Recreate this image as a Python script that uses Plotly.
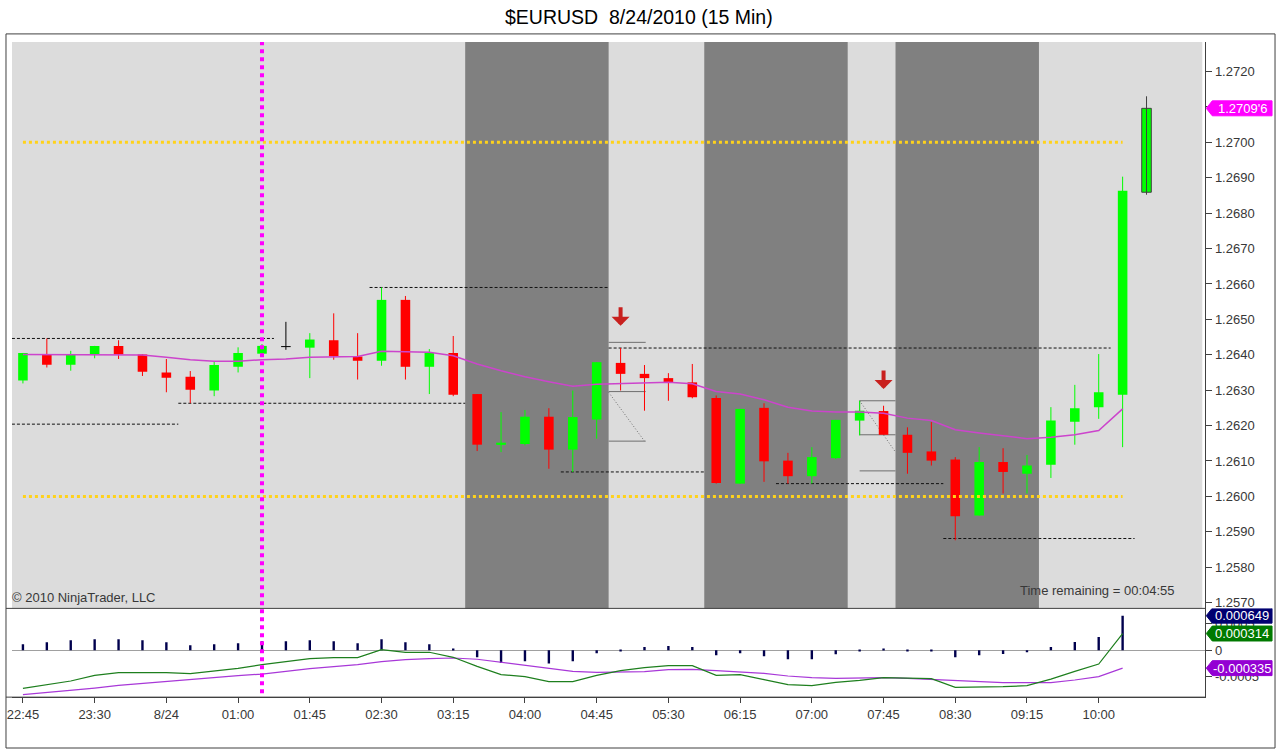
import plotly.graph_objects as go

W, H = 1280, 751


def px_x(x):
    return x / W


def px_y(y):
    return 1 - y / H


# ---------------- data ----------------
title_text = "$EURUSD \u00a08/24/2010 (15 Min)"

tick_bars = [0, 3, 6, 9, 12, 15, 18, 21, 24, 27, 30, 33, 36, 39, 42, 45]
tick_labels = ["22:45", "23:30", "8/24", "01:00", "01:45", "02:30", "03:15", "04:00",
               "04:45", "05:30", "06:15", "07:00", "07:45", "08:30", "09:15", "10:00"]

open_ = [1.26327, 1.26399, 1.26372, 1.26402, 1.26425, 1.26401, 1.26350, 1.26338, 1.26299, 1.26366,
         1.26403, 1.26423, 1.26420, 1.26441, 1.26395, 1.26383, 1.26555, 1.26366, 1.26405, 1.26289,
         1.26147, 1.26148, 1.26225, 1.26132, 1.26217, 1.26377, 1.26346, 1.26334, 1.26322, 1.26278,
         1.26036, 1.26250, 1.26101, 1.26057, 1.26108, 1.26214, 1.26241, 1.26174, 1.26127, 1.26104,
         1.25946, 1.26097, 1.26064, 1.26089, 1.26211, 1.26252, 1.26287, 1.26859]
close = [1.26405, 1.26372, 1.26399, 1.26425, 1.26401, 1.26352, 1.26335, 1.26301, 1.26371, 1.26405,
         1.26425, 1.26423, 1.26443, 1.26396, 1.26383, 1.26555, 1.26366, 1.26405, 1.26287, 1.26146,
         1.26150, 1.26225, 1.26132, 1.26224, 1.26379, 1.26346, 1.26334, 1.26322, 1.26280, 1.26038,
         1.26247, 1.26099, 1.26057, 1.26111, 1.26216, 1.26242, 1.26174, 1.26123, 1.26101, 1.25944,
         1.26097, 1.26069, 1.26087, 1.26214, 1.26249, 1.26294, 1.26863, 1.27096]
high = [1.26405, 1.26446, 1.26411, 1.26425, 1.26441, 1.26401, 1.26388, 1.26354, 1.26381, 1.26421,
        1.26430, 1.26493, 1.26461, 1.26517, 1.26461, 1.26590, 1.26566, 1.26416, 1.26453, 1.26289,
        1.26238, 1.26244, 1.26249, 1.26299, 1.26379, 1.26419, 1.26371, 1.26348, 1.26374, 1.26285,
        1.26247, 1.26263, 1.26123, 1.26139, 1.26216, 1.26270, 1.26256, 1.26195, 1.26210, 1.26111,
        1.26139, 1.26136, 1.26117, 1.26252, 1.26315, 1.26402, 1.26903, 1.27130]
low = [1.26319, 1.26364, 1.26355, 1.26390, 1.26388, 1.26340, 1.26294, 1.26263, 1.26283, 1.26350,
       1.26396, 1.26414, 1.26334, 1.26386, 1.26330, 1.26369, 1.26330, 1.26289, 1.26283, 1.26128,
       1.26125, 1.26144, 1.26078, 1.26069, 1.26163, 1.26299, 1.26242, 1.26270, 1.26277, 1.26036,
       1.26036, 1.26041, 1.26036, 1.26036, 1.26105, 1.26172, 1.26174, 1.26064, 1.26087, 1.25876,
       1.25946, 1.26008, 1.26008, 1.26052, 1.26146, 1.26219, 1.26139, 1.26852]

sma = [1.26401, 1.26401, 1.26401, 1.26401, 1.26401, 1.26399, 1.26393, 1.26386, 1.26382, 1.26382,
       1.26386, 1.26388, 1.26393, 1.26395, 1.26395, 1.26410, 1.26408, 1.26407, 1.26397, 1.26374,
       1.26355, 1.26338, 1.26324, 1.26311, 1.26317, 1.26319, 1.26322, 1.26322, 1.26318, 1.26296,
       1.26289, 1.26273, 1.26252, 1.26241, 1.26238, 1.26238, 1.26235, 1.26221, 1.26214, 1.26188,
       1.26179, 1.26172, 1.26163, 1.26167, 1.26174, 1.26186, 1.26247, None]

macd = [-0.000714, -0.000645, -0.000577, -0.000470, -0.000419, -0.000419, -0.000419, -0.000438,
        -0.000395, -0.000338, -0.000269, -0.000207, -0.000156, -0.000137, -0.000137, 0.000013,
        -0.000038, -0.000038, -0.000132, -0.000301, -0.000457, -0.000494, -0.000588, -0.000588,
        -0.000470, -0.000382, -0.000325, -0.000288, -0.000288, -0.000470, -0.000457, -0.000551,
        -0.000645, -0.000664, -0.000602, -0.000564, -0.000513, -0.000521, -0.000532, -0.000696,
        -0.000690, -0.000682, -0.000664, -0.000540, -0.000395, -0.000258, 0.000314, None]
signal = [-0.000833, -0.000795, -0.000758, -0.000709, -0.000658, -0.000620, -0.000583, -0.000545,
          -0.000513, -0.000476, -0.000446, -0.000389, -0.000344, -0.000306, -0.000269, -0.000212,
          -0.000175, -0.000156, -0.000145, -0.000169, -0.000226, -0.000282, -0.000338, -0.000395,
          -0.000414, -0.000400, -0.000400, -0.000363, -0.000357, -0.000382, -0.000400, -0.000432,
          -0.000483, -0.000513, -0.000526, -0.000513, -0.000513, -0.000526, -0.000545, -0.000577,
          -0.000596, -0.000607, -0.000607, -0.000607, -0.000558, -0.000494, -0.000335, None]
hist = [0.000113, 0.000150, 0.000188, 0.000207, 0.000207, 0.000188, 0.000150, 0.000094,
        0.000113, 0.000132, 0.000169, 0.000169, 0.000188, 0.000169, 0.000132, 0.000207,
        0.000150, 0.000113, 0.000024, -0.000132, -0.000239, -0.000207, -0.000250, -0.000207,
        -0.000056, -0.000006, 0.000062, 0.000081, 0.000062, -0.000094, -0.000056, -0.000113,
        -0.000169, -0.000169, -0.000075, -0.000008, 0.000024, -0.000005, -0.000013, -0.000132,
        -0.000094, -0.000070, -0.000038, 0.000062, 0.000156, 0.000250, 0.000649, None]

# session shading (first bar, last bar)
dark_sessions = [(19, 24), (29, 34), (37, 42)]
# reference price lines
gold_levels = [1.2700, 1.2600]
gold_span = (0, 46)
marker_bar = 10
# swing levels: (price, start bar, end bar)
swing_levels = [(1.26446, -0.46, 10.5), (1.26204, -0.46, 6.5), (1.26263, 6.5, 18.5),
                (1.26590, 14.5, 24.5), (1.26419, 24.5, 45.5), (1.26069, 22.5, 28.5),
                (1.26036, 31.5, 38.5), (1.25881, 38.5, 46.5)]
# drawn pattern objects: (x0, y0, x1, y1, dash)
pattern_lines = [(24.5, 1.26435, 26.05, 1.26435, "solid"), (24.5, 1.26296, 26.05, 1.26296, "solid"),
                 (24.5, 1.26156, 26.05, 1.26156, "solid"), (24.5, 1.26294, 26.0, 1.26156, "1px,2px"),
                 (35.0, 1.26270, 36.5, 1.26270, "solid"), (35.0, 1.26174, 36.5, 1.26174, "solid"),
                 (35.0, 1.26270, 35.0, 1.26174, "solid"), (35.0, 1.26270, 36.5, 1.26125, "1px,2px"),
                 (35.0, 1.26072, 36.5, 1.26072, "solid")]
# signal arrows: (bar, tip price)
sell_arrows = [(25, 1.26482), (36, 1.26303)]

price_ticks = [1.2570, 1.2580, 1.2590, 1.2600, 1.2610, 1.2620, 1.2630, 1.2640,
               1.2650, 1.2660, 1.2670, 1.2680, 1.2690, 1.2700, 1.2710, 1.2720]
osc_ticks = [0.0005, 0.0, -0.0005]
osc_tick_text = ["0.0005", "0", "-0.0005"]
last_price_text = "1.2709'6"

# ---------------- styling ----------------
UP, DOWN, FLAT = "#00FF00", "#FF0000", "#000000"
FONT = "Arial, Liberation Sans, sans-serif"
TXT = "#383838"

x_range = [(7 - 18) / 24, (1205 - 18) / 24]
y_range = [1.27 - (610 - 142.7) / 35500, 1.27 + (142.7 - 42) / 35500]
osc_per_px = 18.7e-6
y2_range = [-(699 - 652) * osc_per_px, (652 - 610) * osc_per_px]

idx = list(range(len(open_)))
n = len(idx)


def col(i):
    if close[i] > open_[i]:
        return UP
    if close[i] < open_[i]:
        return DOWN
    return FLAT


fig = go.Figure()

# wicks grouped by colour
wick_groups = {}
for i in idx:
    c = "#404040" if i == n - 1 else col(i)
    wick_groups.setdefault(c, ([], []))
    xs, ys = wick_groups[c]
    xs += [i, i, None]
    ys += [low[i], high[i], None]
for c, (xs, ys) in wick_groups.items():
    fig.add_trace(go.Scatter(x=xs, y=ys, mode="lines", line=dict(color=c, width=1),
                             hoverinfo="skip", showlegend=False, xaxis="x", yaxis="y"))

# bodies
bases = [min(o, c) for o, c in zip(open_, close)]
heights = [abs(c - o) for o, c in zip(open_, close)]
fig.add_trace(go.Bar(
    x=idx, y=heights, base=bases, width=0.4,
    marker=dict(color=[col(i) for i in idx],
                line=dict(color=["#404040" if i == n - 1 else col(i) for i in idx],
                          width=[1 if i == n - 1 else 0 for i in idx])),
    showlegend=False, xaxis="x", yaxis="y", hoverinfo="skip"))

# doji ticks
for i in idx:
    if abs(close[i] - open_[i]) < 0.00004:
        fig.add_trace(go.Scatter(x=[i - 0.2, i + 0.2], y=[close[i], close[i]], mode="lines",
                                 line=dict(color=col(i), width=1), hoverinfo="skip",
                                 showlegend=False, xaxis="x", yaxis="y"))

# moving average
fig.add_trace(go.Scatter(x=idx, y=sma, mode="lines", line=dict(color="#CC44CC", width=1.5),
                         hoverinfo="skip", showlegend=False, xaxis="x", yaxis="y"))

# oscillator
fig.add_trace(go.Bar(x=idx, y=hist, width=0.1, marker=dict(color="#00004D", line=dict(width=0)),
                     showlegend=False, xaxis="x2", yaxis="y2", hoverinfo="skip"))
fig.add_trace(go.Scatter(x=idx, y=signal, mode="lines", line=dict(color="#A838D8", width=1.2),
                         hoverinfo="skip", showlegend=False, xaxis="x2", yaxis="y2"))
fig.add_trace(go.Scatter(x=idx, y=macd, mode="lines", line=dict(color="#1E7F1E", width=1.2),
                         hoverinfo="skip", showlegend=False, xaxis="x2", yaxis="y2"))

shapes = []
# panel background
shapes.append(dict(type="rect", xref="x", yref="y domain", x0=x_range[0], x1=(1202 - 18) / 24,
                   y0=0, y1=1, fillcolor="#DCDCDC", line=dict(width=0), layer="below"))
for a, b in dark_sessions:
    shapes.append(dict(type="rect", xref="x", yref="y domain", x0=a - 0.5, x1=b + 0.5,
                       y0=0, y1=1, fillcolor="#808080", line=dict(width=0), layer="below"))
for p, a, b in swing_levels:
    shapes.append(dict(type="line", xref="x", yref="y", x0=a, x1=b, y0=p, y1=p,
                       line=dict(color="#111111", width=1, dash="3px,2px"), layer="below"))
for x0, y0, x1, y1, d in pattern_lines:
    shapes.append(dict(type="line", xref="x", yref="y", x0=x0, x1=x1, y0=y0, y1=y1,
                       line=dict(color="#6E6E6E", width=1, dash=d), layer="below"))
for lv in gold_levels:
    shapes.append(dict(type="line", xref="x", yref="y", x0=gold_span[0], x1=gold_span[1],
                       y0=lv, y1=lv, line=dict(color="#FFD21A", width=3, dash="dot"), layer="above"))
shapes.append(dict(type="line", xref="x", yref="paper", x0=marker_bar, x1=marker_bar,
                   y0=px_y(695), y1=px_y(42), line=dict(color="#FF00FF", width=4, dash="dot"),
                   layer="above"))
# frames
shapes.append(dict(type="rect", xref="paper", yref="paper", x0=px_x(1), x1=px_x(1275),
                   y0=px_y(750), y1=px_y(34), line=dict(color="#404040", width=1), layer="above"))
shapes.append(dict(type="line", xref="paper", yref="paper", x0=px_x(1), x1=px_x(1205),
                   y0=px_y(610), y1=px_y(610), line=dict(color="#404040", width=1)))
shapes.append(dict(type="line", xref="paper", yref="paper", x0=px_x(1), x1=px_x(1205),
                   y0=px_y(699), y1=px_y(699), line=dict(color="#404040", width=1)))


def tag(value, yref, per_px, color, text):
    h = 7.5 * per_px
    xt, xb, xr = px_x(1206), px_x(1212), px_x(1272)
    path = (f"M {xt},{value} L {xb},{value + h} L {xr},{value + h} "
            f"L {xr},{value - h} L {xb},{value - h} Z")
    shapes.append(dict(type="path", xref="paper", yref=yref, path=path, fillcolor=color,
                       line=dict(color=color, width=1), layer="above"))
    return dict(x=px_x(1242), y=value, xref="paper", yref=yref, text=text, showarrow=False,
                font=dict(family=FONT, size=13, color="white"), xanchor="center",
                yanchor="middle")


annotations = []
annotations.append(tag(close[-1], "y", 1 / 35500, "#FF00FF", last_price_text))
hist_last = [v for v in hist if v is not None][-1]
macd_last = [v for v in macd if v is not None][-1]
sig_last = [v for v in signal if v is not None][-1]
annotations.append(tag(hist_last, "y2", osc_per_px, "#000070", f"{hist_last:.6f}"))
annotations.append(tag(macd_last, "y2", osc_per_px, "#007A00", f"{macd_last:.6f}"))
annotations.append(tag(sig_last, "y2", osc_per_px, "#9400D3", f"{sig_last:.6f}"))

for b, p in sell_arrows:
    annotations.append(dict(x=b, y=p, xref="x", yref="y", ax=0, ay=-20, text="",
                            showarrow=True, arrowhead=1, arrowsize=0.75, arrowwidth=4,
                            arrowcolor="#C8201E"))

annotations.append(dict(x=px_x(636), y=px_y(17), xref="paper", yref="paper", text=title_text,
                        showarrow=False, font=dict(family=FONT, size=19.5, color="#000000"),
                        xanchor="center", yanchor="middle"))
annotations.append(dict(x=px_x(5), y=px_y(599), xref="paper", yref="paper",
                        text="© 2010 NinjaTrader, LLC", showarrow=False,
                        font=dict(family=FONT, size=13, color=TXT), xanchor="left",
                        yanchor="middle"))
annotations.append(dict(x=px_x(1177), y=px_y(592), xref="paper", yref="paper",
                        text="Time remaining = 00:04:55", showarrow=False,
                        font=dict(family=FONT, size=13, color=TXT), xanchor="right",
                        yanchor="middle"))

axis_common = dict(showgrid=False, zeroline=False, fixedrange=True)

fig.update_layout(
    width=W, height=H,
    margin=dict(l=0, r=0, t=0, b=0),
    paper_bgcolor="white", plot_bgcolor="white",
    barmode="overlay", showlegend=False,
    shapes=shapes, annotations=annotations,
    xaxis=dict(domain=[px_x(7), px_x(1205)], range=x_range, visible=False, anchor="y",
               **axis_common),
    yaxis=dict(domain=[px_y(610), px_y(42)], range=y_range, side="right", anchor="x",
               tickvals=price_ticks, ticktext=[f"{v:.4f}" for v in price_ticks],
               ticks="outside", ticklen=6, tickcolor="#404040",
               showline=True, linecolor="#404040", linewidth=1,
               tickfont=dict(family=FONT, size=13, color=TXT), **axis_common),
    xaxis2=dict(domain=[px_x(7), px_x(1205)], range=x_range, anchor="y2", matches="x",
                tickvals=tick_bars, ticktext=tick_labels, ticks="outside", ticklen=5,
                tickcolor="#404040", showline=True, linecolor="#404040", linewidth=1,
                tickfont=dict(family=FONT, size=13, color=TXT), **axis_common),
    yaxis2=dict(domain=[px_y(699), px_y(610)], range=y2_range, side="right", anchor="x2",
                tickvals=osc_ticks, ticktext=osc_tick_text, ticks="outside", ticklen=6,
                tickcolor="#404040", showline=True, linecolor="#404040", linewidth=1,
                tickfont=dict(family=FONT, size=13, color=TXT), showgrid=False,
                zeroline=True, zerolinecolor="#A0A0A0", zerolinewidth=1, fixedrange=True),
)

page_fix = ("document.body.style.margin='0';document.body.style.padding='0';"
            "document.body.style.overflow='hidden';"
            "document.documentElement.style.overflow='hidden';")
fig.write_html("out.html", post_script=page_fix, config={"displayModeBar": False})
